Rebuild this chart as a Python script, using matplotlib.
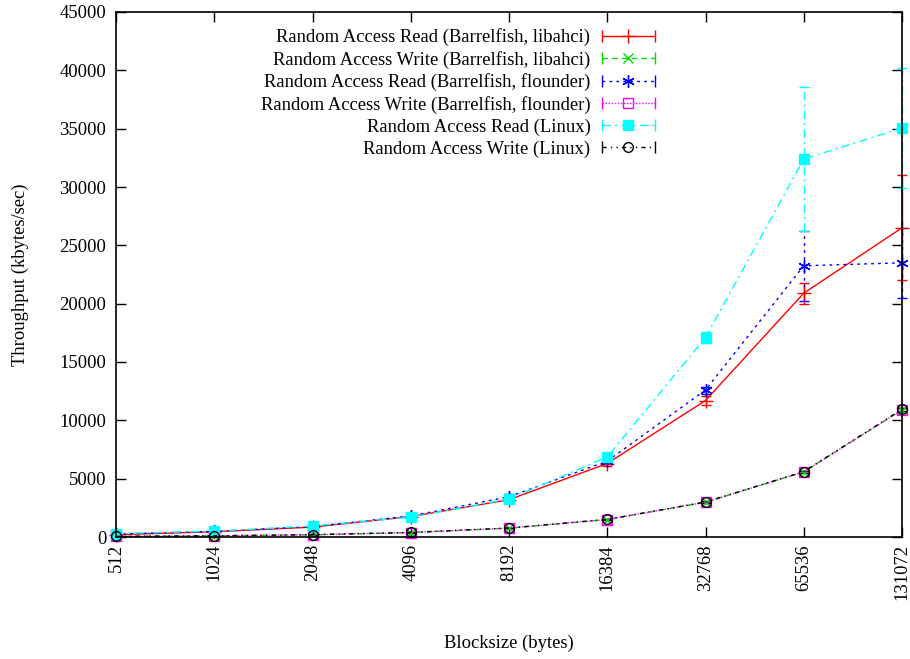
import matplotlib
matplotlib.use('Agg')
import matplotlib.pyplot as plt
from matplotlib.lines import Line2D
from matplotlib.legend_handler import HandlerTuple, HandlerLine2D
from matplotlib.ticker import FixedLocator, NullLocator

plt.rcParams['font.family'] = ['Liberation Serif', 'DejaVu Serif']
plt.rcParams['font.size'] = 13.4

# block sizes in bytes
blocksizes = [512, 1024, 2048, 4096, 8192, 16384, 32768, 65536, 131072]

# throughput in kbytes/sec, with +/- error
read_libahci = [200, 450, 850, 1750, 3200, 6300, 11700, 20900, 26500]
read_libahci_err = [30, 40, 60, 80, 150, 200, 400, 900, 4500]
write_libahci = [50, 100, 190, 380, 760, 1500, 2980, 5580, 10900]
write_libahci_err = [5, 10, 10, 20, 30, 40, 60, 80, 150]
read_flounder = [250, 480, 900, 1800, 3450, 6500, 12600, 23250, 23500]
read_flounder_err = [30, 40, 60, 100, 200, 250, 300, 3000, 3000]
write_flounder = [50, 100, 190, 380, 760, 1500, 2980, 5580, 10900]
write_flounder_err = [5, 10, 10, 20, 30, 40, 60, 80, 150]
read_linux = [300, 500, 950, 1700, 3260, 6860, 17100, 32400, 35050]
read_linux_err = [40, 50, 80, 100, 150, 200, 450, 6150, 5150]
write_linux = [55, 105, 200, 390, 770, 1510, 3000, 5600, 10950]
write_linux_err = [5, 10, 10, 20, 30, 40, 60, 80, 150]

series = [
    ('Random Access Read (Barrelfish, libahci)', read_libahci, read_libahci_err,
     'red', '-', '+', 'red', 10),
    ('Random Access Write (Barrelfish, libahci)', write_libahci, write_libahci_err,
     '#00dd00', (0, (4, 3)), 'x', '#00dd00', 7),
    ('Random Access Read (Barrelfish, flounder)', read_flounder, read_flounder_err,
     'blue', (0, (2, 3)), (6, 2, 0), 'blue', 9),
    ('Random Access Write (Barrelfish, flounder)', write_flounder, write_flounder_err,
     'magenta', (0, (1, 1.2)), 's', 'none', 7),
    ('Random Access Read (Linux)', read_linux, read_linux_err,
     'cyan', (0, (6, 3, 1.5, 3)), 's', 'cyan', 7),
    ('Random Access Write (Linux)', write_linux, write_linux_err,
     'black', (0, (3, 3, 1, 3, 1, 3)), 'o', 'none', 7),
]

fig = plt.figure(figsize=(9.10, 6.59), dpi=100)
ax = fig.add_axes([116 / 910, 1 - 537 / 659, 786 / 910, 525 / 659])

handles = []
labels = []
hmap = {}
for label, vals, errs, col, ls, mk, mfc, ms in series:
    line, caps, bars = ax.errorbar(blocksizes, vals, yerr=errs, color=col, linestyle=ls,
                                   linewidth=1, marker=mk, markersize=ms, mfc=mfc,
                                   mec=col, mew=1, capsize=3.6, elinewidth=1,
                                   capthick=1, clip_on=False)
    for b in bars:
        b.set_linestyle(ls)
        b.set_clip_on(False)
    for c in caps:
        c.set_clip_on(False)

    # legend sample: line with marker in the middle and caps at both ends
    body = Line2D([], [], color=col, linestyle=ls, linewidth=1, marker=mk,
                  markersize=ms, mfc=mfc, mec=col, mew=1)
    ends = Line2D([], [], color=col, linestyle='none', marker='|',
                  markersize=8, mew=1)
    hmap[ends] = HandlerLine2D(numpoints=2, marker_pad=0)
    handles.append((body, ends))
    labels.append(label)

hmap[tuple] = HandlerTuple(ndivide=1, pad=0)

ax.set_xscale('log', base=2)
ax.set_xlim(512, 131072)
ax.set_ylim(0, 45000)
ax.xaxis.set_major_locator(FixedLocator(blocksizes))
ax.xaxis.set_minor_locator(NullLocator())
ax.set_xticklabels([str(b) for b in blocksizes], rotation=90)
ax.set_yticks(range(0, 45001, 5000))

ax.tick_params(direction='in', length=7, width=1, top=True, right=True, pad=7)
ax.tick_params(axis='x', pad=5)
for sp in ax.spines.values():
    sp.set_linewidth(1.2)

ax.set_xlabel('Blocksize (bytes)', labelpad=25)
ax.set_ylabel('Throughput (kbytes/sec)', labelpad=22)

ax.legend(handles, labels, handler_map=hmap, numpoints=1,
          loc='upper right', bbox_to_anchor=(664 / 910, 1 - 19 / 659),
          bbox_transform=fig.transFigure, frameon=False, markerfirst=False,
          handlelength=2.85, labelspacing=0.25, handletextpad=0.6, borderpad=0)

fig.savefig('out.png', dpi=100)
